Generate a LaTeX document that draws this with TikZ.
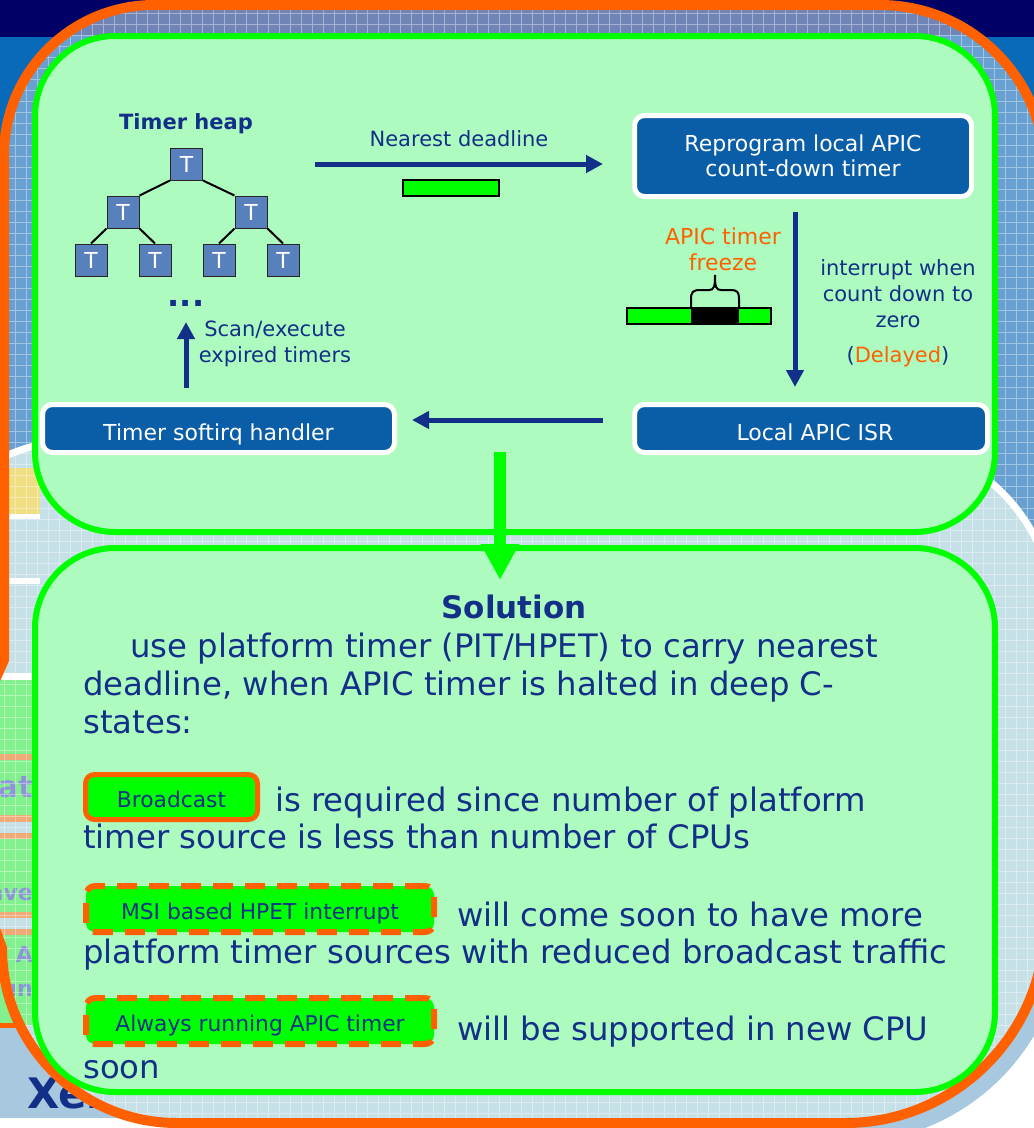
\documentclass[tikz,border=0pt]{standalone}
\usepackage{fontspec}
\setmainfont{DejaVu Sans}
\usetikzlibrary{arrows.meta}

\definecolor{topnavy}{RGB}{0,0,102}
\definecolor{slideblue}{RGB}{10,106,186}
\definecolor{gridtop}{RGB}{112,132,182}
\definecolor{gridmid}{RGB}{104,160,210}
\definecolor{gridlight}{RGB}{198,224,232}
\definecolor{paleblue}{RGB}{168,200,224}
\definecolor{bandyellow}{RGB}{240,222,130}
\definecolor{bandgreen}{RGB}{130,240,140}
\definecolor{bandstripe}{RGB}{240,170,120}
\definecolor{fadedtext}{RGB}{140,150,215}
\definecolor{hilite}{RGB}{255,96,0}
\definecolor{vivid}{RGB}{0,255,0}
\definecolor{mint}{RGB}{174,251,192}
\definecolor{boxblue}{RGB}{10,94,168}
\definecolor{ink}{RGB}{18,48,136}
\definecolor{heapblue}{RGB}{88,128,188}

\newcommand\smallsz{\fontsize{21}{26}\selectfont}
\newcommand\boxsz{\fontsize{22}{25}\selectfont}
\newcommand\tagsz{\fontsize{21.8}{26}\selectfont}
\newcommand\bodysz{\fontsize{32.3}{38}\selectfont}

% region enclosed by the orange callout frame
\def\rimarea{(4,660) -- (4,155) .. controls (4,72.2) and (71.2,5) .. (154,5)
  -- (880,5) .. controls (971.1,5) and (1045,78.9) .. (1045,170)
  -- (1200,170) -- (1200,923) -- (1045,923)
  .. controls (1045,1033.5) and (955.5,1123) .. (845,1123)
  -- (177,1123) .. controls (80.3,1123) and (2,1044.7) .. (2,948)
  -- (-14,905) -- (-14,700) -- cycle}
% the visible strokes of that frame
\def\rimtop{(-14,700) -- (4,660) -- (4,155) .. controls (4,72.2) and (71.2,5) .. (154,5)
  -- (880,5) .. controls (971.1,5) and (1045,78.9) .. (1045,170)}
\def\rimbottom{(1045,923)
  .. controls (1045,1033.5) and (955.5,1123) .. (845,1123)
  -- (177,1123) .. controls (80.3,1123) and (2,1044.7) .. (2,948) -- (-14,905)}

% gridded slide surface seen through the frame
\newcommand\slidesurface{%
  \fill[gridmid] (-20,0) rectangle (1060,1130);
  \fill[gridtop] (-20,0) rectangle (1060,35);
  \fill[gridlight, rounded corners=180] (-100,440) rectangle (1055,1400);
  \draw[white, line width=7, rounded corners=180] (-100,440) rectangle (1055,1400);
  \draw[gridline]
    foreach \gx in {-18,-7,...,1060} {(\gx,0) -- (\gx,1130)}
    foreach \gy in {2,13,...,1130} {(-20,\gy) -- (1060,\gy)};}

\begin{document}
\begin{tikzpicture}[x=1pt,y=-1pt,
  panel/.style={draw=vivid, line width=6, fill=mint, rounded corners=80, inner sep=0},
  bluebox/.style={draw=white, line width=5, fill=boxblue, rounded corners=10,
    text=white, font=\boxsz, align=center, inner sep=0},
  tnode/.style={draw=black!85, line width=1, fill=heapblue, minimum size=32,
    inner sep=0, text=white, font=\fontsize{22}{26}\selectfont},
  treeedge/.style={draw=black, line width=2},
  flow/.style={draw=ink, line width=5, -{Triangle[length=17pt,width=17pt]}},
  lbl/.style={text=ink, font=\smallsz, align=center, inner sep=0},
  body/.style={anchor=base west, inner sep=0, font=\bodysz, text=ink},
  tag/.style={fill=vivid, draw=hilite, line width=5, rounded corners=9,
    font=\tagsz, text=ink, inner sep=0, text height=21, text depth=0},
  dashtag/.style={tag, line width=6, dash pattern=on 20pt off 12pt},
  bar/.style={draw=black, line width=1.2, fill=vivid, inner sep=0, minimum height=16},
  gridline/.style={draw=white, opacity=0.38, line width=1},
  rim/.style={draw=hilite, line width=10, line join=round},
  fragment/.style={anchor=base east, text=fadedtext, inner sep=0}]

\useasboundingbox (0,0) rectangle (1034,1128);
\clip (0,0) rectangle (1034,1128);

% ---- slide backdrop outside the frame ----
\fill[slideblue] (0,0) rectangle (1034,1128);
\fill[white] (845,700) rectangle (1100,1160);
\fill[white] (-300,932) rectangle (845,1160);
\fill[white] (845,932) circle[radius=232];
\fill[paleblue] (845,923) circle[radius=220];
\fill[paleblue] (-300,923) rectangle (845,1143);
\fill[paleblue] (845,700) rectangle (1065,923);
\fill[bandgreen] (-20,880) rectangle (60,1023);
\fill[hilite] (-20,1023) rectangle (60,1028);
\fill[white] (-20,1118) rectangle (600,1140);
\fill[topnavy] (0,0) rectangle (1034,37);
\node[anchor=base west, inner sep=0, text=ink, font=\fontsize{42}{42}\selectfont\bfseries] (xen) at (27,1108) {Xen};

% ---- gridded slide area inside the frame ----
\begin{scope}
  \clip \rimarea;
  \fill[gridmid] (-20,0) rectangle (1060,1130);
  \fill[gridtop] (-20,0) rectangle (1060,35);
  \fill[gridlight, rounded corners=180] (-100,440) rectangle (1055,1400);
  \draw[white, line width=7, rounded corners=180] (-100,440) rectangle (1055,1400);
  \fill[bandyellow] (-20,468) rectangle (40,514);
  \fill[white] (-20,514) rectangle (40,519);
  \fill[white] (-20,578) rectangle (40,584);
  \fill[white] (-20,673) rectangle (40,680);
  \fill[bandgreen] (-20,680) rectangle (40,1025);
  \fill[bandstripe] (-20,754) rectangle (40,760);
  \fill[bandstripe] (-20,815) rectangle (40,822);
  \fill[gridlight] (-20,822) rectangle (40,833);
  \fill[bandstripe] (-20,833) rectangle (40,839);
  \fill[bandstripe] (-20,912) rectangle (40,918);
  \fill[gridlight] (-20,918) rectangle (40,929);
  \fill[bandstripe] (-20,929) rectangle (40,935);
  \node[fragment, font=\fontsize{30}{30}\selectfont\bfseries] (fraga) at (33,797) {cat};
  \node[fragment, font=\fontsize{22}{22}\selectfont\bfseries] (fragb) at (33,900) {ave};
  \node[fragment, font=\fontsize{22}{22}\selectfont\bfseries] (fragc) at (33,962) {A};
  \node[fragment, font=\fontsize{22}{22}\selectfont\bfseries] (fragd) at (33,996) {un};
  \draw[gridline]
    foreach \gx in {-18,-7,...,1060} {(\gx,0) -- (\gx,1130)}
    foreach \gy in {2,13,...,1130} {(-20,\gy) -- (1060,\gy)};
\end{scope}

% ---- orange frame ----
\draw[rim] \rimtop;
\draw[rim] \rimbottom;

% right-hand strip of the slide surface, between the two frame corners
\begin{scope}
  \clip (1000,175) rectangle (1034,960);
  \slidesurface
\end{scope}

% ---- two green panels ----
\node[panel, minimum width=960, minimum height=496] (upper) at (515,284) {};
\node[panel, minimum width=960, minimum height=544] (lower) at (515,820) {};

\coordinate (gtop) at (500,452);
\coordinate (gtip) at (500,580);
\draw[vivid, line width=12, -{Triangle[length=36pt,width=36pt]}] (gtop) -- (gtip);

% ---- timer heap ----
\node[text=ink, font=\fontsize{21}{26}\selectfont\bfseries, inner sep=0] (heaplbl) at (186,124) {Timer heap};
\node[tnode] (t1) at (186.5,164) {T};
\node[tnode] (t2) at (123,212) {T};
\node[tnode] (t3) at (251,212) {T};
\node[tnode] (t4) at (91,260) {T};
\node[tnode] (t5) at (155,260) {T};
\node[tnode] (t6) at (219,260) {T};
\node[tnode] (t7) at (283,260) {T};
\draw[treeedge] (t1.south west) -- (t2.north east);
\draw[treeedge] (t1.south east) -- (t3.north west);
\draw[treeedge] (t2.south west) -- (t4.north);
\draw[treeedge] (t2.south east) -- (t5.north);
\draw[treeedge] (t3.south west) -- (t6.north);
\draw[treeedge] (t3.south east) -- (t7.north);
\node[text=ink, font=\fontsize{32}{32}\selectfont\bfseries, inner sep=0] (more) at (186,303) {...};

% ---- blue process boxes ----
\node[bluebox, minimum width=337, minimum height=81] (reprog) at (803,156)
  {Reprogram local APIC\\count-down timer};
\node[bluebox, minimum width=353, minimum height=48, text height=23, text depth=0] (isr) at (811,428.5) {\hspace*{8pt}Local APIC ISR};
\node[bluebox, minimum width=352, minimum height=48, text height=23, text depth=0] (softirq) at (218.5,428.5) {Timer softirq handler};

% ---- flow arrows ----
\coordinate (ndfrom) at (315,164);
\coordinate (ndto) at (603,164);
\draw[flow] (ndfrom) -- (ndto);
\node[lbl] (ndlbl) at (459,139) {Nearest deadline};
\node[bar, minimum width=96] (ndbar) at (451,188) {};

\draw[flow] ([shift={(-8,13)}]reprog.south) -- ([shift={(-16,-15)}]isr.north);
\draw[flow] ([shift={(-29,-8.5)}]isr.west) -- ([shift={(15,-8.5)}]softirq.east);
\coordinate (scantip) at (186,322);
\draw[flow] ([shift={(-32.5,-14)}]softirq.north) -- (scantip);
\node[lbl] (scanlbl) at (275,344) {Scan/execute\\expired timers};

% ---- frozen count-down ----
\node[lbl, text=hilite, font=\fontsize{22}{26}\selectfont] (freezelbl) at (723,249) {APIC timer\\freeze};
\node[bar, minimum width=144] (cbar) at (699,316) {};
\fill[black] (691,308) rectangle (739,324);
\draw[black, line width=1.2] (cbar.north west) rectangle (cbar.south east);
\draw[black, line width=2] (691,308) -- (691,299) .. controls (691,292) and (693,290) .. (700,290)
  -- (709,290) .. controls (714,290) and (715,287) .. (715,275)
  .. controls (715,287) and (716,290) .. (721,290) -- (731,290)
  .. controls (737,290) and (739,292) .. (739,299) -- (739,308);

\node[lbl] (irqlbl) at (898,294) {interrupt when\\count down to\\zero};
\node[lbl] (delaylbl) at (898,357) {(\textcolor{hilite}{Delayed})};

% ---- solution text ----
\node[anchor=base, inner sep=0, font=\fontsize{31}{38}\selectfont\bfseries, text=ink] (soltitle) at (514,618) {Solution};
\node[body] (l1) at (130,657) {use platform timer (PIT/HPET) to carry nearest};
\node[body] (l2) at (83,695) {deadline, when APIC timer is halted in deep C-};
\node[body] (l3) at (83,733) {states:};

\node[tag, minimum width=172, minimum height=45] (bcast) at (171.5,797) {Broadcast};
\node[body] (l4) at (275,811) {is required since number of platform};
\node[body] (l5) at (83,848) {timer source is less than number of CPUs};

\node[dashtag, minimum width=348, minimum height=46] (msi) at (260,909) {MSI based HPET interrupt};
\node[body] (l6) at (457,926) {will come soon to have more};
\node[body] (l7) at (83,963) {platform timer sources with reduced broadcast traffic};

\node[dashtag, minimum width=348, minimum height=46] (always) at (260,1021) {Always running APIC timer};
\node[body] (l8) at (457,1040) {will be supported in new CPU};
\node[body] (l9) at (83,1078) {soon};
\end{tikzpicture}
\end{document}
